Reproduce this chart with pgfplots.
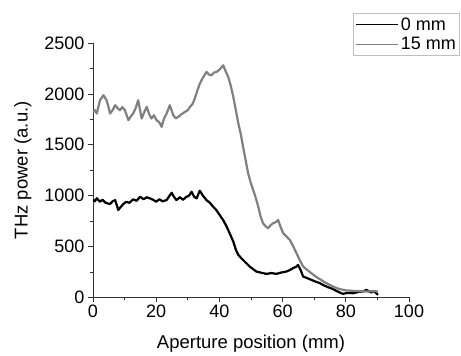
\documentclass[border=0pt]{standalone}
\usepackage{pgfplots}
\pgfplotsset{compat=1.18}
\usepackage{fontspec}
\setmainfont{Liberation Sans}
\definecolor{grey15}{RGB}{128,128,128}
\begin{document}
\begin{tikzpicture}[x=1pt,y=1pt]
\clip (0,0) rectangle (461,356);
\path[use as bounding box] (0,0) rectangle (461,356);
\begin{axis}[
  at={(93pt,58.5pt)}, anchor=south west,
  scale only axis, width=316pt, height=254.5pt,
  xmin=0, xmax=100, ymin=0, ymax=2500,
  xtick={0,20,40,60,80,100}, ytick={0,500,1000,1500,2000,2500},
  minor tick num=1,
  axis x line*=bottom, axis y line*=left,
  axis line style={-, black!80, line width=0.8pt},
  tick align=outside,
  major tick length=5pt, minor tick length=3pt,
  every tick/.style={black!80, line width=0.7pt},
  tick label style={font=\fontsize{18}{21}\selectfont},
  xticklabel style={yshift=1pt},
  label style={font=\fontsize{18.5}{22}\selectfont},
  /pgf/number format/assume math mode=true,
  /pgf/number format/.cd, 1000 sep={}, /pgfplots/.cd,
  xlabel={Aperture position (mm)},
  ylabel={THz power (a.u.)},
  xlabel style={yshift=-10pt},
  ylabel style={yshift=6pt},
  legend style={at={(0.823,1.118)}, anchor=north west, draw=black!25, line width=1pt,
    font=\fontsize{18}{21}\selectfont, inner sep=2pt, row sep=2pt,
    legend cell align=left},
  legend image code/.code={\draw[#1, line width=1.3pt] (0pt,0pt) -- (42pt,0pt);},
]
\addplot[black, line width=2.2pt, line join=round] coordinates {
(0,964) (0.6,945) (1.2,975) (2.2,941) (3,960) (4,930) (5.4,918) (6.2,945) (7,957) (7.6,900) (8,859) (8.8,890) (9.6,918) (10.5,940) (11.5,930) (12.7,964) (13.8,950) (14.9,990) (16,965) (17,985) (18,974) (19,960) (20,941) (21,965) (22,945) (23.3,957) (24,990) (24.9,1029) (25.6,990) (26.4,957) (27.5,985) (28.5,960) (29.6,990) (30.4,1000) (31.2,1039) (32,990) (32.8,974) (33.4,1020) (33.8,1049) (34.8,1000) (35.9,957) (37,930) (38,892) (39,860) (40.1,810) (41.2,760) (42.3,696) (43.4,620) (44.4,549) (45.2,470) (46,418) (46.8,390) (47.5,369) (48.6,335) (49.6,304) (50.6,280) (51.7,255) (53,245) (54.9,232) (56.5,240) (58,232) (59.5,245) (61.2,255) (62.3,270) (63.3,288) (64.2,300) (64.9,320) (65.7,270) (66.5,206) (67.8,190) (69.1,173) (70.5,155) (71.8,141) (73,120) (74.4,101) (75.8,85) (77,65) (78,50) (79.1,36) (80.5,45) (82.3,42) (84,55) (85.5,60) (86.5,75) (88,50) (89,60) (90.2,26)
};
\addlegendentry{0 mm}
\addplot[grey15, line width=2.2pt, line join=round] coordinates {
(0,1823) (0.6,1840) (1.2,1807) (2.2,1938) (3.3,1987) (4.3,1938) (5,1860) (5.4,1807) (6.2,1840) (7,1889) (7.8,1860) (8.5,1840) (9.3,1870) (10.1,1840) (11.2,1742) (12,1780) (12.7,1807) (13.5,1860) (14.3,1938) (15.4,1758) (16.2,1820) (17,1873) (17.8,1800) (18.5,1758) (19.3,1790) (20.1,1742) (21,1720) (21.7,1676) (22.5,1760) (23.3,1807) (24.3,1889) (25.4,1791) (26.2,1760) (27,1775) (28,1800) (29.1,1823) (30,1840) (30.7,1873) (31.5,1900) (32.2,1954) (33,2030) (33.8,2101) (34.8,2160) (35.9,2216) (36.7,2190) (37.5,2183) (38.3,2210) (39.1,2216) (40.1,2240) (41.2,2281) (42,2220) (42.8,2167) (43.6,2080) (44.4,1971) (45.2,1840) (46,1709) (46.8,1600) (47.5,1480) (48.3,1350) (49.1,1219) (49.9,1130) (50.7,1056) (51.5,980) (52.3,892) (53,800) (53.8,729) (54.6,700) (55.4,680) (56.2,710) (57,729) (57.8,740) (58.6,761) (59.4,690) (60.2,631) (61.2,600) (62.3,565) (63.4,500) (64.4,435) (65.4,370) (66.5,304) (67.8,270) (69.1,239) (70.5,205) (71.8,180) (73.3,150) (74.9,124) (76.5,100) (78.1,82) (80,70) (82.3,65) (84.5,62) (86.5,59) (88.5,62) (90.2,59)
};
\addlegendentry{15 mm}
\end{axis}
\end{tikzpicture}
\end{document}
